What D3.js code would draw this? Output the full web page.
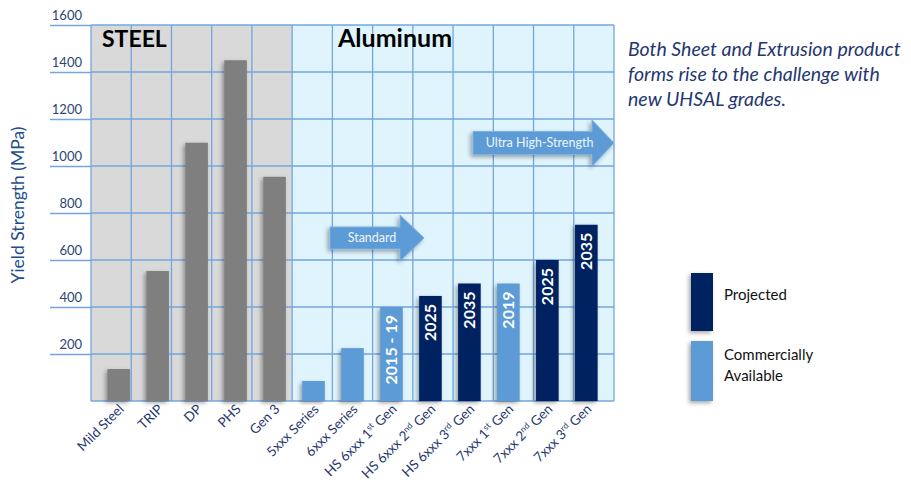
<!DOCTYPE html>
<html>
<head>
<meta charset="utf-8">
<script src="https://cdn.jsdelivr.net/npm/d3@7"></script>
<style>
body{margin:0;background:#fff;}
svg{font-family:Lato,"Open Sans",sans-serif;}
</style>
</head>
<body>
<script>
// data
var categories=["Mild Steel","TRIP","DP","PHS","Gen 3","5xxx Series","6xxx Series","HS 6xxx 1st Gen","HS 6xxx 2nd Gen","HS 6xxx 3rd Gen","7xxx 1st Gen","7xxx 2nd Gen","7xxx 3rd Gen"];
var values=[136,553,1099,1450,954,85,225,400,447,500,500,600,750];
var kinds=["steel","steel","steel","steel","steel","comm","comm","comm","proj","proj","comm","proj","proj"];
var barLabels=["","","","","","","","2015 - 19","2025","2035","2019","2025","2035"];
var yTicks=[200,400,600,800,1000,1200,1400,1600];

var width=911,height=480;
var pLeft=91,pRight=614,pTop=25,pBottom=401;
var colors={steel:"#7f7f7f",comm:"#5b9bd5",proj:"#002060"};
var gridColor="#74a6dc";
var navy="#1f3870";

var svg=d3.select('body').append('svg')
		.attr('width',width)
		.attr('height',height);

var defs=svg.append('defs');
var f=defs.append('filter').attr('id','shadow').attr('x','-30%').attr('y','-10%').attr('width','160%').attr('height','130%');
f.append('feDropShadow').attr('dx',-2).attr('dy',2).attr('stdDeviation',2).attr('flood-color','#000').attr('flood-opacity',0.35);

var x=d3.scaleBand().domain(categories).range([pLeft,pRight]).padding(0.42);
var cell=d3.scaleBand().domain(categories).range([pLeft,pRight]).padding(0);
var y=d3.scaleLinear().domain([0,1600]).range([pBottom,pTop]);

// background cells
svg.selectAll('.cell')
	.data(categories)
	.enter().append('rect')
	.attr('x',function(d){return cell(d);})
	.attr('y',pTop)
	.attr('width',cell.bandwidth())
	.attr('height',pBottom-pTop)
	.attr('fill',function(d,i){return kinds[i]=="steel"?"#d9d9d9":"#dff4fd";});

// horizontal grid + tick labels (labels sit above the line)
var yAxis=d3.axisLeft(y).tickValues(yTicks).tickFormat(d3.format('d')).tickSizeInner(41).tickSizeOuter(0);
var yg=svg.append('g').attr('transform','translate('+pLeft+',0)').call(yAxis);
yg.select('.domain').remove();
yg.selectAll('line').attr('stroke',gridColor).attr('stroke-width',1.3);
yg.selectAll('text').attr('x',-9).attr('dy','-0.45em').attr('fill','#2b4576').attr('font-size',13).attr('font-family','Lato,sans-serif');
svg.append('g').selectAll('line')
	.data(yTicks)
	.enter().append('line')
	.attr('x1',pLeft).attr('x2',pRight)
	.attr('y1',function(d){return y(d);}).attr('y2',function(d){return y(d);})
	.attr('stroke',gridColor).attr('stroke-width',1.3);

// vertical grid
svg.append('g').selectAll('line')
	.data(categories.concat(['end']))
	.enter().append('line')
	.attr('x1',function(d){return d=='end'?pRight:cell(d);})
	.attr('x2',function(d){return d=='end'?pRight:cell(d);})
	.attr('y1',pTop).attr('y2',pBottom)
	.attr('stroke',gridColor).attr('stroke-width',1.3);

svg.append('line').attr('x1',pLeft).attr('x2',pRight).attr('y1',pBottom).attr('y2',pBottom)
	.attr('stroke',gridColor).attr('stroke-width',1.5);

// section titles
svg.append('text').attr('x',102).attr('y',47).attr('font-size',23).attr('font-weight','bold').attr('fill','#000').text('STEEL');
svg.append('text').attr('x',338).attr('y',47).attr('font-size',25).attr('font-weight','bold').attr('fill','#000').text('Aluminum');

// arrows
function arrow(x0,x1,headX,yc,bh,hh,label){
	var p=[[x0,yc-bh/2],[headX,yc-bh/2],[headX,yc-hh/2],[x1,yc],[headX,yc+hh/2],[headX,yc+bh/2],[x0,yc+bh/2]];
	svg.append('path').attr('d','M'+p.join('L')+'Z')
		.attr('fill','#5b9bd5').attr('stroke','#7fb2e0').attr('stroke-width',1)
		.attr('filter','url(#shadow)');
	svg.append('text').attr('x',(x0+headX)/2+7).attr('y',yc+4).attr('text-anchor','middle')
		.attr('font-size',12.5).attr('fill','#eef5fc').text(label);
}
arrow(330,424,400,238,22,46,'Standard');
arrow(473,614,592,143,23,46,'Ultra High-Strength');

// bars
svg.selectAll('.bar')
	.data(values)
	.enter().append('rect')
	.attr('class','bar')
	.attr('x',function(d,i){return x(categories[i]);})
	.attr('y',function(d){return y(d);})
	.attr('width',x.bandwidth())
	.attr('height',function(d){return pBottom-y(d);})
	.attr('fill',function(d,i){return colors[kinds[i]];})
	.attr('filter','url(#shadow)');

// labels inside bars
svg.selectAll('.blabel')
	.data(values)
	.enter().append('text')
	.attr('transform',function(d,i){return 'translate('+(x(categories[i])+x.bandwidth()/2+5.5)+','+(y(d)+8)+') rotate(-90)';})
	.attr('text-anchor','end')
	.attr('font-size',16).attr('font-weight','bold').attr('fill','#fff')
	.text(function(d,i){return barLabels[i];});

// x labels, rotated with superscripts
var xl=svg.selectAll('.xlabel')
	.data(categories)
	.enter().append('text')
	.attr('transform',function(d){return 'translate('+(x(d)+x.bandwidth()/2+6)+',410) rotate(-45)';})
	.attr('text-anchor','end')
	.attr('font-size',13.5).attr('fill',navy);
xl.each(function(d){
	var t=d3.select(this);
	var m=d.match(/^(.*\d)(st|nd|rd)( .*)$/);
	if(m){
		t.append('tspan').text(m[1]);
		t.append('tspan').attr('font-size',8.5).attr('dy',-5).text(m[2]);
		t.append('tspan').attr('dy',5).text(m[3]);
	}else t.text(d);
});

// y title
svg.append('text').attr('transform','translate(24,205) rotate(-90)').attr('text-anchor','middle')
	.attr('font-size',17.5).attr('fill','#1f4e8c').text('Yield Strength (MPa)');

// note text
var note=['Both Sheet and Extrusion product','forms rise to the challenge with','new UHSAL grades.'];
svg.append('g').selectAll('text')
	.data(note)
	.enter().append('text')
	.attr('x',628).attr('y',function(d,i){return 56+i*25;})
	.attr('font-size',19.5).attr('font-style','italic').attr('fill',navy)
	.text(function(d){return d;});

// legend
var legend=[{k:'proj',y:273,h:58,t:['Projected'],ty:[300]},{k:'comm',y:341,h:60,t:['Commercially','Available'],ty:[360,381]}];
legend.forEach(function(l){
	svg.append('rect').attr('x',691).attr('y',l.y).attr('width',22).attr('height',l.h)
		.attr('fill',colors[l.k]).attr('filter','url(#shadow)');
	l.t.forEach(function(s,i){
		svg.append('text').attr('x',724).attr('y',l.ty[i]).attr('font-size',15).attr('fill','#111').text(s);
	});
});
</script>
</body>
</html>
